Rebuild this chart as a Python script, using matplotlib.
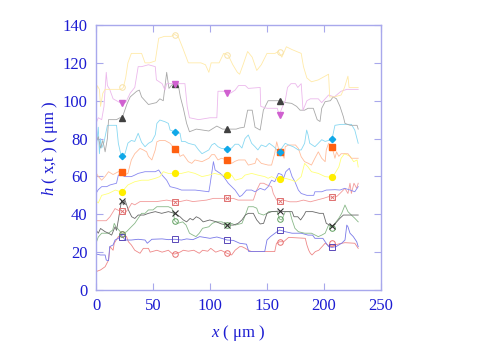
import matplotlib
matplotlib.use("Agg")
import matplotlib.pyplot as plt

# ---------------- data ----------------
mk_x = [23, 69, 115, 161, 207]

top_x = [0, 1, 3, 4, 6, 8, 22, 24, 26, 28, 31, 40, 43, 47, 52, 55, 60, 66, 69, 72, 76, 81, 92, 96, 99, 101, 108, 112, 116, 120, 124, 126, 129, 133, 137, 141, 145, 150, 157, 160, 163, 167, 172, 180, 182, 185, 189, 195, 201, 204, 205, 209, 215, 218, 221, 222, 230]
top_y = [99, 108, 106, 97, 104, 106, 106, 107, 112, 120, 125, 125, 120, 120, 121, 133, 134, 134, 135, 134, 128, 120, 120, 119, 115, 120, 120, 125, 124, 119, 115, 114, 119, 126, 123, 116, 119, 125, 125, 126, 123, 128.5, 127, 125, 118, 112, 110, 111, 113, 114, 102, 102, 103, 107, 113, 107, 107]
top_mk = [107, 134.5, 124, 126]

pink_x = [0, 2, 5, 7, 9, 10, 12, 15, 18, 21, 23, 26, 30, 34, 37, 40, 46, 52, 53, 58, 60.5, 62, 69, 78, 80, 82, 90, 100, 106, 107, 112, 118, 122, 125, 131, 133.6, 144, 144.5, 150, 159, 160.8, 163, 166, 168, 171, 175, 177, 180, 181.6, 185, 188, 195, 198, 201, 204, 209, 215, 220, 230]
pink_y = [88, 91, 90, 97, 115, 108, 106, 101, 100, 99, 99, 99, 104, 107, 118, 118, 119, 118, 111, 109, 105.6, 109, 109, 109, 97, 91, 90, 91, 91, 105, 105, 104, 105.6, 108, 108, 106.5, 107, 97, 96, 96, 92.4, 96, 100, 107, 109, 109, 107, 109, 95, 100, 101, 101, 99, 101, 103, 102, 105, 106, 106]
pink_mk = [99, 109, 104, 92.4]

gray_x = [0, 2, 4, 6, 8, 10, 11, 18, 21, 23, 27, 30, 35.7, 38, 40, 43, 46, 53, 56, 59, 62, 64, 66, 69, 72, 74, 76.6, 79.5, 82, 88, 99, 106, 111, 123, 126, 130, 133, 137, 139.5, 144, 146.8, 151, 161, 166.5, 171.6, 176, 179, 183, 186, 190.6, 194, 196.5, 198, 201, 205.6, 208, 211, 214, 217, 218.4, 223, 229, 230]
gray_y = [78, 81, 75, 79, 73, 80, 90, 90, 91, 91, 98, 102, 105, 105.6, 102, 100, 98, 99, 101, 100, 115, 106.5, 108, 109.5, 109, 102, 96, 88, 83.6, 85, 84, 86.6, 85, 85, 85.6, 86, 95, 95, 86, 84.5, 95, 100, 100, 99, 98.6, 97, 95, 95, 96, 96, 90, 89, 96, 99.5, 100, 102, 101, 97, 91.5, 88, 87, 87, 85]
gray_mk = [90.7, 109, 85, 100]

cyan_x = [0, 1, 2, 3, 4, 5, 7, 10, 18, 19.6, 22, 25.4, 28, 31, 34, 37, 40, 43, 46, 49, 52, 53.4, 56, 60.5, 63.5, 65, 69.3, 73.7, 75, 78, 81, 86.8, 90, 93, 96, 99, 101.5, 104, 107, 110, 115, 119, 122, 125, 128, 130.7, 133.6, 136.5, 139.5, 142, 145, 149, 152, 156, 161, 163, 166, 169, 173, 177.5, 180, 183, 184.8, 186, 187.5, 192, 195, 198, 201, 204, 207, 209.6, 215, 224, 227, 230]
cyan_y = [72, 80, 86, 72, 80, 75, 78, 87, 87, 77.5, 71, 72, 77.6, 79, 78.5, 82.8, 78, 75.7, 77.5, 78.5, 82, 88, 89.8, 88.9, 88, 84.5, 83.6, 82.8, 78.5, 78.5, 77.5, 76.6, 74, 72, 73, 74, 76.6, 77.5, 75.7, 74.8, 74.5, 75, 77, 77, 75, 80, 81.9, 77.5, 75.7, 74, 76.6, 75.7, 77.5, 75.7, 72.7, 75, 77.5, 76.6, 75.7, 74, 74, 77.5, 84.5, 82, 77.5, 75.7, 77.5, 79.4, 78.5, 79, 79.6, 87, 87.5, 87.5, 84.5, 77.5]
cyan_mk = [70.8, 83.6, 74.5, 72.7, 79.6]

orange_x = [0, 2, 5, 8, 11, 15, 19.6, 23, 25.4, 28, 31, 34, 38.6, 41.5, 44.4, 46, 49, 52, 53.4, 56, 60.5, 65, 69, 72.2, 73.7, 76.6, 81, 84, 86.8, 93, 96, 99, 101.5, 104, 107, 110, 115, 119, 122, 125, 130.7, 133.6, 139.5, 141, 145, 151, 154, 156.8, 158.5, 161, 163, 165, 166, 169, 175, 177.5, 180, 183, 186, 189, 192, 195, 198, 201, 202, 204, 207, 209.6, 211, 213, 215, 221, 224, 230]
orange_y = [62, 60, 58, 60, 62.5, 61, 62.5, 62.5, 61, 61.6, 68.7, 72, 74.8, 74, 73, 70.6, 68.7, 74, 78.3, 79, 79, 77.5, 74.5, 73, 70.6, 71.5, 67.8, 66.9, 68.7, 67.8, 68.7, 69.6, 71.5, 71.5, 68.7, 69.6, 68.7, 66.9, 68, 68.7, 68.7, 66, 66.9, 69.6, 66.9, 66, 66, 72.2, 78.3, 72.7, 73, 69.6, 75.7, 76.6, 76.6, 74.8, 70.4, 67.8, 67, 66, 69.6, 73, 69.6, 67.8, 74, 77.5, 75.7, 69.6, 73, 70.6, 72, 72, 69.6, 69.6]
orange_mk = [62.5, 74.5, 68.7, 72.7, 75.7]

yellow_x = [0, 2, 5, 11, 17, 23, 25.4, 28, 34, 40, 46, 52, 56, 59, 63.5, 69, 75, 81, 86.8, 93, 99, 104, 110, 119, 122, 128, 130.7, 136.5, 142, 148, 151, 154, 156.8, 161, 166, 172, 175, 180, 183, 186, 189, 195, 201, 207, 209.6, 213, 215, 218, 223, 226, 229, 230]
yellow_y = [47, 46, 50, 51, 52.8, 51.6, 53.7, 55.5, 57.2, 58, 58, 59, 59.9, 62.5, 61.6, 61.6, 61.6, 62.5, 61.6, 59.9, 60.7, 61.6, 60.7, 60.7, 58, 59, 60.7, 61.6, 60.7, 59.9, 59, 59.9, 59, 58.6, 59, 58, 57.2, 59.9, 66.9, 65, 62.5, 61.6, 59.9, 59.5, 61.6, 65, 69.6, 72, 70.6, 67.8, 68.7, 65]
yellow_mk = [51.6, 61.6, 60.7, 58.6, 59.5]

blue2_x = [0, 2, 5, 9.4, 12.3, 18, 19.6, 22.5, 25.4, 31, 34, 37, 43, 52, 55, 58, 62, 65, 71, 75, 87, 99, 100, 103, 104.5, 109, 112, 116, 122, 126, 128, 132, 136.5, 139.5, 144, 148, 151, 154, 156.8, 160, 163, 164.5, 166.5, 169.6, 172, 174.5, 177.5, 180, 185, 191, 192, 198, 202, 209.6, 214, 218, 223, 227, 230]
blue2_y = [51, 53, 54.6, 54.6, 55.5, 56.4, 60.7, 60.7, 59.9, 59.9, 60.7, 61.6, 62.5, 62.5, 63.4, 60.7, 58, 54.6, 53.7, 52.8, 52.8, 51.9, 55.5, 67.8, 63.4, 61.6, 59.9, 56.4, 52.8, 49.3, 50, 52.8, 52.8, 51.9, 53.7, 52.8, 54.6, 58, 57.2, 61.6, 61, 59, 62.5, 64.3, 59.9, 57.2, 52.8, 51, 50, 50, 51.9, 51.9, 52.8, 53, 52.8, 53.7, 52.8, 51.9, 54.6]

red2_x = [0, 9, 12.3, 16.7, 20, 23, 25.4, 28.4, 31.3, 34, 38.6, 46, 53, 62, 69, 73.7, 79.5, 85, 97, 103, 115, 120.5, 124.6, 138, 141, 144, 147, 150, 154, 155.5, 158.5, 161, 164, 170, 176, 182, 188, 193.6, 199.4, 204, 207, 211, 214, 218.4, 221, 222.8, 224, 226.3, 228.7, 230]
red2_y = [36.6, 36.6, 38.7, 43, 42, 41.7, 40.5, 43, 45.8, 45, 46.7, 46.7, 46.7, 47.5, 46.7, 46.7, 47.5, 46.7, 47.5, 48.4, 48.4, 48.4, 47.5, 47.5, 52.8, 56.4, 56.4, 55.5, 54.6, 51, 47.5, 47.2, 47.5, 46.6, 46.6, 47.5, 46.6, 47.5, 48.4, 49.3, 49, 49.3, 51, 53.7, 51, 56.4, 51, 56.4, 53.7, 56.4]
red2_mk = [41.7, 46.7, 48.4, 47.2, 49]

dgray_x = [0, 2, 4, 8, 11, 13.7, 16.7, 18, 19.6, 21, 22.5, 24, 25.4, 28.4, 31.3, 34, 37, 42, 46, 52, 57.6, 63.5, 69, 73.7, 76.6, 79.5, 82.5, 85, 88, 91, 94, 99.8, 105.6, 110, 115, 120.5, 124.6, 128, 131, 133.6, 138, 141, 144, 147, 150, 154, 161, 166, 172, 173.7, 177, 179.5, 182.5, 184, 190, 196, 199.4, 202, 205, 207, 210, 214, 217, 230]
dgray_y = [31.7, 30, 32.5, 30.8, 30, 29, 33.4, 31.5, 37, 42.3, 47.5, 45, 47.5, 42.3, 38.7, 37.8, 39.6, 39.6, 40.5, 41.4, 40.5, 41.4, 40.5, 38.7, 37, 36, 37.8, 37, 38.7, 37.8, 36, 37, 36, 34.9, 34.3, 34.3, 35.2, 37, 39.6, 40.5, 40.5, 37, 34.9, 35.2, 40.5, 41.4, 41.7, 41.4, 41.4, 38.7, 38.7, 37, 39.6, 41.4, 41.4, 40.5, 40.5, 35.2, 34.3, 33.8, 35.2, 37.9, 39.6, 39.6]
dgray_mk = [47.2, 40.5, 34.3, 41.7, 33.8]

green_x = [0, 2, 5, 11, 14.7, 16, 17.5, 20, 23, 26.8, 31, 34, 37, 40, 43, 46, 50, 53.4, 58, 63.5, 66.5, 68, 69, 71.6, 76, 79, 82, 85, 87.7, 90.6, 93.5, 99, 102, 105, 110.5, 115, 119, 122, 128, 131, 133.6, 138, 141, 142.6, 147, 150, 151.5, 159, 161, 163, 166, 170, 172, 174.5, 177.5, 183, 189, 195, 198, 201, 204, 207, 209.6, 213, 215.5, 218.4, 221, 224, 227, 230]
green_y = [24.7, 28, 30, 30, 31.7, 35.2, 33.4, 31.7, 29.6, 30.8, 33.4, 35.2, 37.9, 40.5, 40.5, 42.3, 42.3, 44, 44, 44, 43.2, 40.5, 36.6, 35.2, 36, 34.3, 30, 29, 28.2, 30, 32.6, 33.4, 35.2, 36, 36, 34.3, 35.2, 34.3, 35.2, 39.6, 44, 44, 43.2, 40.5, 39.6, 40.5, 41.4, 41.4, 37.5, 37, 41.4, 41.4, 37, 32.6, 30.8, 30, 30, 28.2, 29, 30, 34.3, 33, 35.2, 37.9, 40.5, 44.9, 41.4, 39.6, 37.9, 36]
green_mk = [29.6, 36.6, 34.3, 37.5, 33]

blue1_x = [0, 4, 8, 9, 11, 12, 15, 16.7, 19.6, 22.5, 25.4, 31, 37, 43, 45, 49, 58, 63.5, 69, 75, 79.5, 85, 91, 100, 106, 112, 115, 120.5, 126, 132, 134, 148, 150, 153, 157, 161, 166, 172, 180, 186, 190, 192, 199, 201, 204, 207, 210.5, 215.5, 218.4, 220, 221, 222.8, 225.7, 228.7, 230]
blue1_y = [19, 18.5, 18.5, 15.8, 15.5, 22.9, 23.8, 26.4, 27.3, 29, 26.4, 26.4, 26.8, 26.4, 24.7, 26.8, 27, 26.6, 26.8, 26.4, 27, 26.6, 28.2, 27.3, 28, 27, 26.4, 26.2, 24.7, 24.2, 20.3, 20.3, 26.4, 28.2, 30, 31.7, 30.8, 30, 30, 29, 29, 27.3, 27.3, 25.5, 22.9, 22.5, 22.9, 24.7, 26.4, 34.3, 33.4, 30, 28.2, 25.5, 22.9]
blue1_mk = [28.2, 26.8, 26.4, 31.7, 22.5]

red1_x = [0, 4, 8, 11, 12.3, 15, 16, 19.6, 23, 26.8, 28.4, 31, 34, 38.6, 41.5, 46, 47.5, 53.4, 58, 63.5, 66.5, 69, 73.7, 76.6, 81, 85.8, 90.6, 93.5, 98, 100.7, 105, 109.6, 115, 119, 122, 126, 128, 131, 133.6, 136.5, 156.8, 158.3, 161, 164.6, 169, 183.6, 185, 186.6, 188, 189.5, 192.4, 195.4, 198.3, 201, 205.5, 209.6, 214, 218.4, 227, 230]
red1_y = [9.7, 10.6, 12.3, 15.8, 22.9, 21, 24.7, 28.2, 29.6, 28.2, 25.5, 23.8, 21, 19.4, 22, 22, 20, 21, 20, 21, 19.4, 19, 20, 21, 20.5, 21, 19.4, 21, 20.5, 22, 20, 21, 19.4, 18.5, 21, 22.9, 22.9, 22, 21, 20.3, 20.3, 24.7, 25.5, 25.5, 27.8, 27.3, 23.8, 21, 19.4, 18.5, 20.3, 21, 22.9, 24.7, 22.9, 23.8, 24.5, 25, 24.7, 22]
red1_mk = [29.6, 19, 19.4, 25.5, 24.8]

x_ticks = [0, 50, 100, 150, 200, 250]
y_ticks = [0, 20, 40, 60, 80, 100, 120, 140]

# ---------------- style ----------------
plt.rcParams['font.family'] = ['Liberation Serif', 'DejaVu Serif']
plt.rcParams['mathtext.fontset'] = 'custom'
plt.rcParams['mathtext.it'] = 'Liberation Serif:italic'
plt.rcParams['mathtext.rm'] = 'Liberation Serif'

txt_col = '#1c1cd2'
spine_col = '#a8a8ec'

fig = plt.figure(figsize=(4.98, 3.52), dpi=100)
ax = fig.add_axes([96/498, 1-290/352, 285/498, 265/352])

lw = 0.6
series = [
    # x, y, line colour, marker values, marker, marker colour, filled
    (red1_x, red1_y, '#ee8888', red1_mk, 'o', '#e87070', False),
    (blue1_x, blue1_y, '#7878e8', blue1_mk, 's', '#5a48b8', False),
    (green_x, green_y, '#88b888', green_mk, 'o', '#60a060', False),
    (dgray_x, dgray_y, '#686868', dgray_mk, 'x', '#303030', True),
    (red2_x, red2_y, '#f29a9a', red2_mk, 's', '#e07070', False),
    (blue2_x, blue2_y, '#8888f0', None, None, None, True),
    (yellow_x, yellow_y, '#ffff78', yellow_mk, 'o', '#ffee00', True),
    (orange_x, orange_y, '#ffbd9c', orange_mk, 's', '#ff6010', True),
    (cyan_x, cyan_y, '#88d8f2', cyan_mk, 'D', '#10a8e8', True),
    (gray_x, gray_y, '#a8a8a8', gray_mk, '^', '#404040', True),
    (pink_x, pink_y, '#ecb8ec', pink_mk, 'v', '#d060d0', True),
    (top_x, top_y, '#ffeaa8', top_mk, 'o', '#f8e2a8', False),
]

for xs, ys, col, mk, m, mc, filled in series:
    ax.plot(xs, ys, color=col, lw=lw, zorder=2)
    if mk is not None:
        mx = mk_x[:len(mk)]
        if m == 'x':
            ax.plot(mx, mk, ls='none', marker='x', ms=4.0, mew=0.8, color=mc, zorder=3)
        elif filled:
            ms = 3.2 if m == 'D' else 4.2
            ax.plot(mx, mk, ls='none', marker=m, ms=ms, color=mc, mec=mc, zorder=3)
        else:
            ax.plot(mx, mk, ls='none', marker=m, ms=4.0, mfc='none', mec=mc, mew=0.7, zorder=3)
            if col == '#f29a9a':
                ax.plot(mx, mk, ls='none', marker='x', ms=3.0, mew=0.6, color=mc, zorder=3)

ax.set_xlim(0, 250)
ax.set_ylim(0, 140)
ax.set_xticks(x_ticks)
ax.set_yticks(y_ticks)
for s in ax.spines.values():
    s.set_color(spine_col)
    s.set_linewidth(1.0)
ax.tick_params(direction='in', length=5, width=0.8, color=spine_col,
               top=True, right=True, labelsize=12, labelcolor=txt_col, pad=6)

ax.set_xlabel(r'$x$ ( μm )', fontsize=12, color=txt_col, labelpad=6)
ax.set_ylabel(r'$h$ ( x,t ) ( μm )', fontsize=12, color=txt_col)
ax.yaxis.set_label_coords(-0.125, 0.535)

fig.savefig('out.png', dpi=100)
